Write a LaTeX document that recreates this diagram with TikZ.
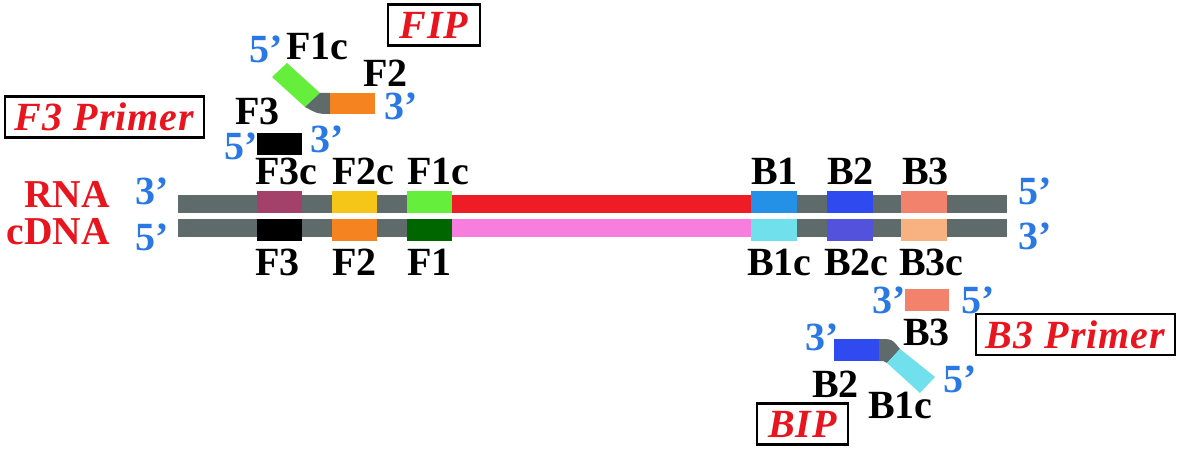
\documentclass[tikz,border=0pt]{standalone}
\usepackage{fontspec}
\setmainfont{Liberation Serif}
\newfontfamily\titlefont[LetterSpace=2.5]{Liberation Serif}
\definecolor{strandgray}{HTML}{5F6B6B}
\definecolor{cFthreec}{HTML}{A3416A}
\definecolor{cFtwoc}{HTML}{F5C518}
\definecolor{cFonec}{HTML}{66EE3C}
\definecolor{cred}{HTML}{EE1C25}
\definecolor{cFtwo}{HTML}{F5831F}
\definecolor{cFone}{HTML}{006600}
\definecolor{cpink}{HTML}{F77EDF}
\definecolor{cBone}{HTML}{2490E6}
\definecolor{cBtwo}{HTML}{2F4BF0}
\definecolor{cBthree}{HTML}{F3826C}
\definecolor{cBonec}{HTML}{70E0EC}
\definecolor{cBtwoc}{HTML}{5252DD}
\definecolor{cBthreec}{HTML}{F8B282}
\definecolor{myblue}{HTML}{2A78E4}
\definecolor{myred}{HTML}{E8141E}
\begin{document}
\begin{tikzpicture}[x=1pt,y=-1pt,
  lab/.style={font=\fontsize{40}{42}\selectfont\bfseries, anchor=base west, inner sep=0pt},
  prime/.style={font=\fontsize{40}{42}\selectfont\bfseries, anchor=base west, inner sep=0pt, text=myblue},
  redlab/.style={font=\fontsize{39.5}{42}\selectfont\bfseries, anchor=base east, inner sep=0pt, text=myred},
  titlebox/.style={draw=black, line width=2.5pt, text=myred, font=\titlefont\fontsize{40}{42}\selectfont\bfseries\itshape, inner sep=0pt, minimum height=41pt}
]
\useasboundingbox (0,0) rectangle (1180,454);

% strands
\fill[strandgray] (178,195) rectangle (1007,213);
\fill[strandgray] (178,219) rectangle (1007,237);

% RNA strand segments
\fill[cFthreec] (257,191) rectangle (302,213);
\fill[cFtwoc] (332,191) rectangle (377,213);
\fill[cFonec] (407,191) rectangle (452,213);
\fill[cred] (452,195) rectangle (751,213);
\fill[cBone] (751,191) rectangle (797,213);
\fill[cBtwo] (827,191) rectangle (873,213);
\fill[cBthree] (901,191) rectangle (947,213);

% cDNA strand segments
\fill[black] (257,219) rectangle (302,241);
\fill[cFtwo] (332,219) rectangle (377,241);
\fill[cFone] (407,219) rectangle (452,241);
\fill[cpink] (452,219) rectangle (751,237);
\fill[cBonec] (751,219) rectangle (797,241);
\fill[cBtwoc] (827,219) rectangle (873,241);
\fill[cBthreec] (901,219) rectangle (947,241);

% strand labels
\node[redlab] (rna) at (110,208) {RNA};
\node[redlab] (cdna) at (110,245) {cDNA};
\node[prime] (l3) at (135,205) {3’};
\node[prime] (l5) at (135,251) {5’};
\node[prime] (r5) at (1018,205) {5’};
\node[prime] (r3) at (1018,250) {3’};

% labels above / below
\node[lab] (tF3c) at (255,185) {F3c};
\node[lab] (tF2c) at (332,185) {F2c};
\node[lab] (tF1c) at (407,185) {F1c};
\node[lab] (tB1) at (751,185) {B1};
\node[lab] (tB2) at (827,185) {B2};
\node[lab] (tB3) at (902,185) {B3};
\node[lab] (bF3) at (255,276) {F3};
\node[lab] (bF2) at (332,276) {F2};
\node[lab] (bF1) at (407,276) {F1};
\node[lab] (bB1c) at (747,276) {B1c};
\node[lab] (bB2c) at (824,276) {B2c};
\node[lab] (bB3c) at (899,276) {B3c};

% F3 primer
\fill[black] (257,133) rectangle (302,155);
\node[lab] (pF3) at (235,125) {F3};
\node[prime] (pF3a) at (224,160) {5’};
\node[prime] (pF3b) at (310,153) {3’};
\node[titlebox, minimum width=199pt] (f3primer) at (104.5,117) {F3 Primer};

% FIP
\fill[cFonec] (272,77) -- (287,63) -- (320,93) -- (305,107) -- cycle;
\fill[strandgray] (320,93) .. controls (324,93) .. (330,93) -- (330,114) .. controls (318,114) .. (305,107) -- cycle;
\fill[cFtwo] (330,93) rectangle (375,114);
\node[prime] (fip5) at (249,63) {5’};
\node[lab] (fipF1c) at (286,60) {F1c};
\node[lab] (fipF2) at (363,87) {F2};
\node[prime] (fip3) at (384,120) {3’};
\node[titlebox, minimum width=92pt] (fip) at (434,25) {FIP};

% B3 primer
\fill[cBthree] (905,289) rectangle (949,311);
\node[prime] (b3a) at (872,313) {3’};
\node[prime] (b3b) at (961,313) {5’};
\node[lab] (pB3) at (903,345) {B3};
\node[titlebox, minimum width=199pt] (b3primer) at (1075.5,334.5) {B3 Primer};

% BIP
\fill[cBtwo] (834,339) rectangle (879,361);
\fill[strandgray] (879,339) .. controls (892,339) .. (900,349) -- (887,363) .. controls (884,361) .. (879,361) -- cycle;
\fill[cBonec] (900,349) -- (935,377) -- (920,393) -- (887,363) -- cycle;
\node[prime] (bip3) at (805,350) {3’};
\node[prime] (bip5) at (943,392) {5’};
\node[lab] (bipB2) at (812,397) {B2};
\node[lab] (bipB1c) at (868,418) {B1c};
\node[titlebox, minimum width=91pt] (bip) at (802.5,424) {BIP};
\end{tikzpicture}
\end{document}
